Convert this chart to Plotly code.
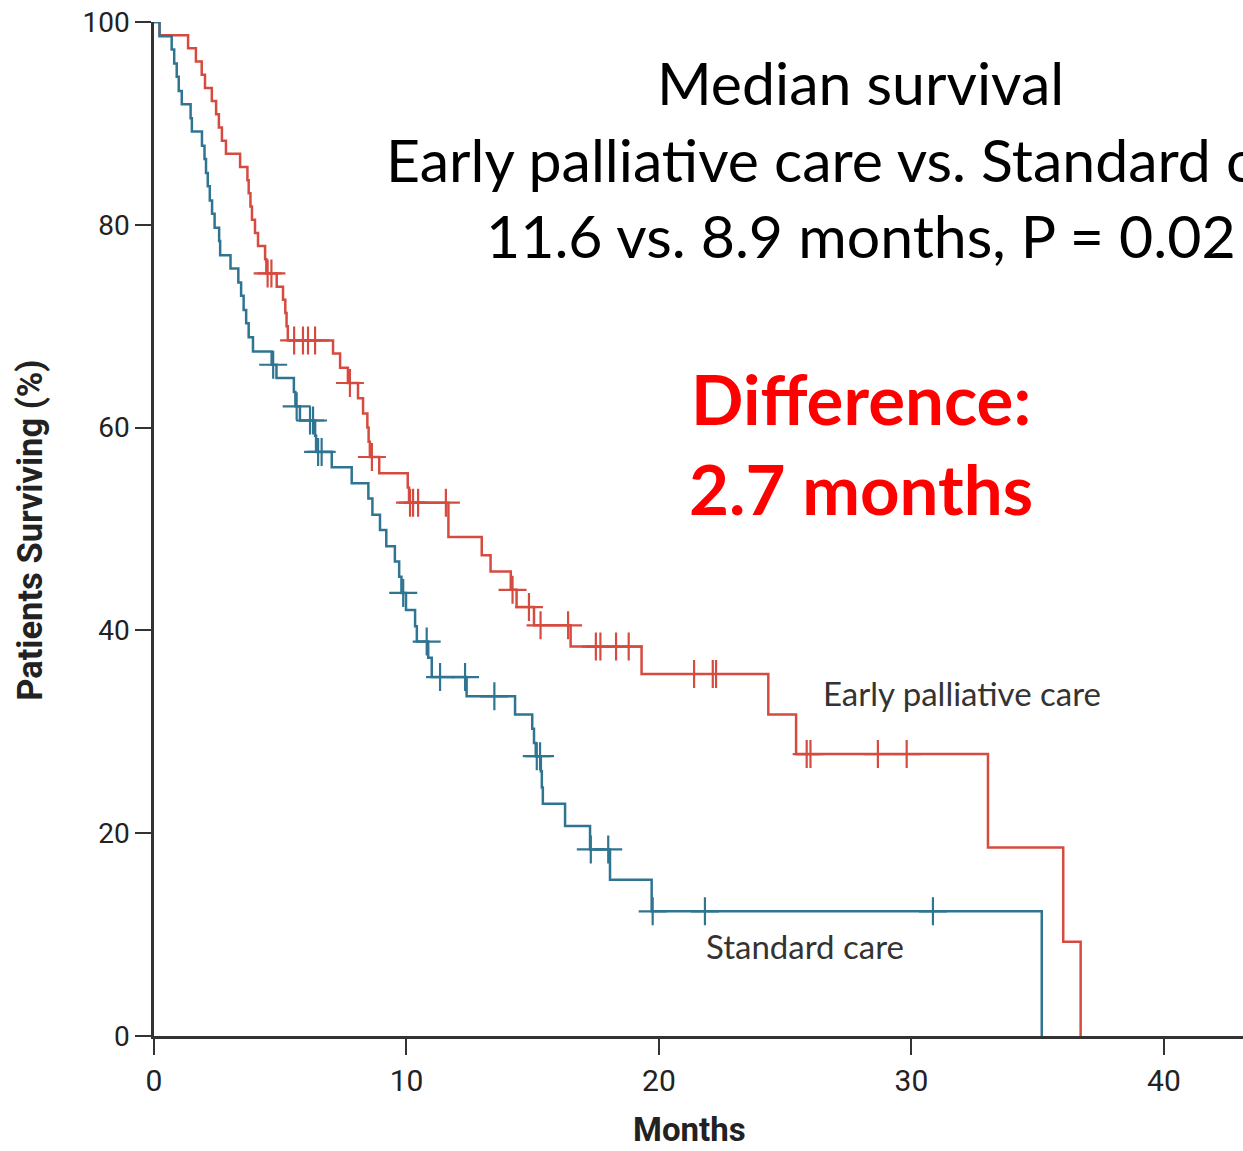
import plotly.graph_objects as go

# Early palliative care (red) — step times (months) and survival (%)
epc_time = [0, 0.22, 1.35, 1.66, 1.89, 2.02, 2.29, 2.46, 2.57, 2.69, 2.85, 3.41, 3.70, 3.75,
            3.82, 3.88, 4.00, 4.12, 4.40, 4.45, 4.86, 5.11, 5.20, 5.25, 5.30, 7.09, 7.37,
            7.68, 8.08, 8.28, 8.45, 8.50, 8.55, 8.92, 10.05, 10.10, 11.66, 12.98, 13.33,
            14.13, 14.36, 15.05, 16.50, 19.31, 24.33, 25.43, 33.03, 36.01, 36.70]
epc_surv = [100, 98.7, 97.4, 96.1, 94.8, 93.5, 92.2, 90.9, 89.6, 88.3, 87.0, 85.7, 84.4, 83.1,
            81.8, 80.5, 79.2, 77.9, 76.6, 75.2, 73.9, 72.6, 71.3, 70.0, 68.6, 67.3, 65.9,
            64.4, 62.9, 61.4, 60.0, 58.6, 57.1, 55.5, 54.1, 52.6, 49.2, 47.4, 45.8,
            44.0, 42.3, 40.5, 38.4, 35.7, 31.7, 27.8, 18.6, 9.3, 0]
epc_censor = [4.50, 4.65, 5.55, 5.90, 6.10, 6.38, 7.76, 8.63, 10.14, 10.26, 10.46, 11.56,
              14.20, 14.85, 15.31, 16.40, 17.50, 17.68, 18.30, 18.80, 21.39, 22.13, 22.26,
              25.85, 26.00, 28.67, 29.81]

# Standard care (blue)
std_time = [0, 0.22, 0.70, 0.80, 0.90, 0.98, 1.10, 1.45, 1.50, 1.90, 2.00, 2.06, 2.13, 2.21,
            2.30, 2.40, 2.58, 2.62, 3.03, 3.34, 3.45, 3.55, 3.65, 3.75, 3.92, 4.66, 4.85,
            5.54, 5.60, 5.78, 6.38, 6.42, 7.04, 7.83, 8.49, 8.65, 8.95, 9.20, 9.54, 9.71,
            9.80, 9.98, 10.34, 10.41, 10.86, 11.00, 12.38, 14.30, 14.98, 15.05, 15.12,
            15.32, 15.36, 15.40, 16.28, 17.27, 18.06, 19.71, 35.16]
std_surv = [100, 98.6, 97.3, 95.9, 94.6, 93.2, 91.9, 90.5, 89.2, 87.8, 86.5, 85.1, 83.8, 82.4,
            81.1, 79.7, 78.4, 77.0, 75.7, 74.3, 73.0, 71.6, 70.3, 68.9, 67.5, 66.2, 64.9,
            63.5, 62.1, 60.7, 59.2, 57.6, 56.1, 54.5, 53.0, 51.4, 49.9, 48.3, 46.8, 45.3,
            43.7, 42.0, 40.4, 38.9, 37.3, 35.4, 33.5, 31.7, 30.3, 28.9, 27.6,
            26.1, 24.5, 22.9, 20.7, 18.4, 15.4, 12.3, 0]
std_censor = [4.72, 5.65, 6.18, 6.30, 6.50, 6.64, 9.87, 10.80, 11.33, 12.32, 13.48, 15.16,
              15.29, 17.30, 17.99, 19.75, 21.82, 30.85]

x_ticks = [0, 10, 20, 30, 40]
y_ticks = [0, 20, 40, 60, 80, 100]

RED = "#d64b40"
BLUE = "#2f7592"


def step_at(times, surv, t):
    val = surv[0]
    for tt, ss in zip(times, surv):
        if tt <= t:
            val = ss
    return val


fig = go.Figure()
for times, surv, cens, col in [(epc_time, epc_surv, epc_censor, RED),
                                (std_time, std_surv, std_censor, BLUE)]:
    fig.add_trace(go.Scatter(x=times, y=surv, mode="lines", line=dict(color=col, width=2.5, shape="hv"),
                             cliponaxis=False, hoverinfo="skip"))
    fig.add_trace(go.Scatter(x=cens, y=[step_at(times, surv, c) for c in cens], mode="markers",
                             marker=dict(symbol="cross-thin", size=20, line=dict(color=col, width=2.2)),
                             cliponaxis=False, hoverinfo="skip"))

axis_common = dict(showline=True, linecolor="#333333", linewidth=2.5, ticks="outside", ticklen=16,
                   tickwidth=2, tickcolor="#333333", showgrid=False, zeroline=False)
fig.update_xaxes(range=[0, 43.13], tickvals=x_ticks, tickfont=dict(family="Roboto", size=30, color="#222"),
                 **axis_common)
fig.update_yaxes(range=[0, 100], tickvals=y_ticks, tickfont=dict(family="Roboto", size=28, color="#222"),
                 **axis_common)

ann = []
black_font = dict(family="Lato", size=59, color="#000000")
for txt, yv in [("Median survival", 94.0), ("Early palliative care vs. Standard care", 86.4),
                ("11.6 vs. 8.9 months, P = 0.02", 78.9)]:
    ann.append(dict(x=28.0, y=yv, xref="x", yref="y", text=txt, showarrow=False, font=black_font,
                    xanchor="center", yanchor="middle"))
red_font = dict(family="Lato", size=69, color="#ff0000", weight="bold")
for txt, yv in [("Difference:", 62.9), ("2.7 months", 54.0)]:
    ann.append(dict(x=28.0, y=yv, xref="x", yref="y", text=txt, showarrow=False, font=red_font,
                    xanchor="center", yanchor="middle"))
lab_font = dict(family="Lato", size=33, color="#333333")
ann.append(dict(x=32.0, y=33.8, xref="x", yref="y", text="Early palliative care", showarrow=False,
                font=lab_font, xanchor="center", yanchor="middle"))
ann.append(dict(x=25.8, y=8.9, xref="x", yref="y", text="Standard care", showarrow=False,
                font=lab_font, xanchor="center", yanchor="middle"))
ann.append(dict(x=21.2, y=-0.1124, xref="x", yref="paper", text="Months", showarrow=False,
                font=dict(family="Roboto", size=33, color="#222", weight="bold"),
                xanchor="center", yanchor="bottom", borderpad=0))
ann.append(dict(x=-0.114, y=49.9, xref="paper", yref="y", text="Patients Surviving (%)", showarrow=False,
                textangle=-90, font=dict(family="Roboto", size=34.5, color="#222", weight="bold"),
                xanchor="center", yanchor="middle"))

fig.update_layout(width=1243, height=1151, margin=dict(l=154, r=0, t=22, b=115),
                  plot_bgcolor="white", paper_bgcolor="white", showlegend=False, annotations=ann)

fig.write_html("out.html", config={"displayModeBar": False},
               post_script="document.body.style.margin='0';document.body.style.overflow='hidden';")
